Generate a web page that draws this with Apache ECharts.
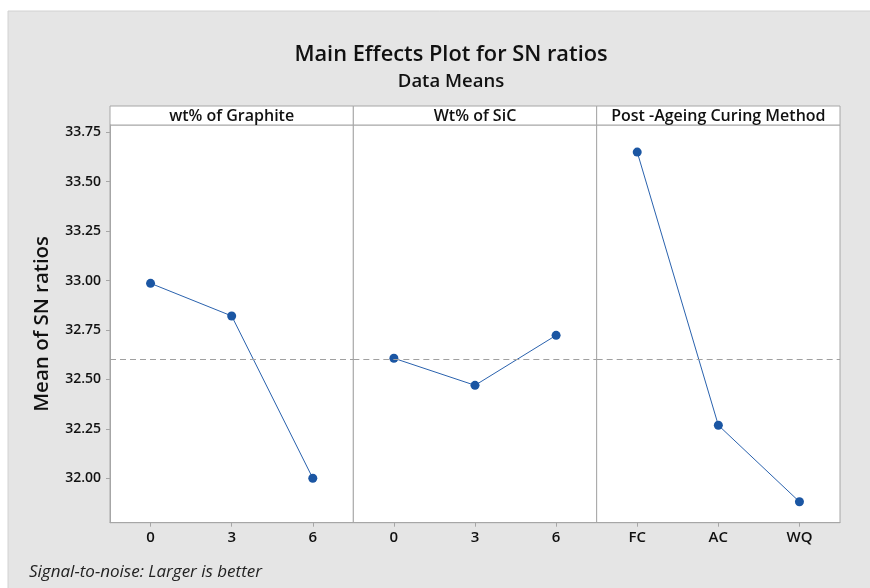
<!DOCTYPE html>
<html>
<head>
<meta charset="utf-8">
<script src="https://cdn.jsdelivr.net/npm/echarts@6/dist/echarts.min.js"></script>
<style>html,body{margin:0;padding:0;background:#fff}#c{width:870px;height:588px}</style>
</head>
<body>
<div id="c"></div>
<script>
// ---- data ----
const panelTitles = ['wt% of Graphite', 'Wt% of SiC', 'Post -Ageing Curing Method'];
const graphiteLevels = ['0', '3', '6'];
const graphiteMeans = [32.986, 32.821, 32.000];
const sicLevels = ['0', '3', '6'];
const sicMeans = [32.607, 32.470, 32.723];
const curingLevels = ['FC', 'AC', 'WQ'];
const curingMeans = [33.650, 32.268, 31.881];
const overallMean = 32.60;
const yTicks = [32.00, 32.25, 32.50, 32.75, 33.00, 33.25, 33.50, 33.75];
const yMin = 31.775, yMax = 33.787;

const levels = [graphiteLevels, sicLevels, curingLevels];
const means = [graphiteMeans, sicMeans, curingMeans];

// ---- layout ----
const plotLeft = 110, plotRight = 840, plotTop = 125, plotBottom = 522.7, headerTop = 106;
const pw = (plotRight - plotLeft) / 3;
const FONT = 'Open Sans';
const gridLine = '#a6a6a6';

const grids = [], xAxes = [], yAxes = [], series = [], graphics = [];
graphics.push({type:'rect', shape:{x:8, y:11, width:870, height:590}, style:{fill:'#e5e5e5', stroke:'#d2d2d2', lineWidth:1}, z:-10, silent:true});

for (let i = 0; i < 3; i++) {
  const left = plotLeft + pw * i;
  grids.push({left: left, top: plotTop, width: pw, height: plotBottom - plotTop, show: true, backgroundColor: '#fff', borderColor: gridLine, borderWidth: 1});
  xAxes.push({
    type: 'category', gridIndex: i, data: levels[i], boundaryGap: true,
    axisLine: {show: true, lineStyle: {color: gridLine}},
    axisTick: {show: true, alignWithLabel: true, length: 4, lineStyle: {color: gridLine}},
    axisLabel: {color: '#111', fontFamily: FONT, fontSize: 15, fontWeight: 600, margin: 8},
    splitLine: {show: false}
  });
  yAxes.push({
    type: 'value', gridIndex: i, min: yMin, max: yMax,
    axisLine: {show: i === 0, lineStyle: {color: gridLine}},
    axisTick: {show: i === 0, length: 4, customValues: yTicks, lineStyle: {color: gridLine}},
    axisLabel: {show: i === 0, customValues: yTicks, formatter: v => v.toFixed(2), color: '#111', fontFamily: FONT, fontSize: 14, fontWeight: 600, margin: 9},
    splitLine: {show: false},
    name: i === 0 ? 'Mean of SN ratios' : '', nameLocation: 'middle', nameGap: 57,
    nameTextStyle: {fontFamily: FONT, fontSize: 20.5, fontWeight: 600, color: '#111'}
  });
  series.push({
    type: 'line', xAxisIndex: i, yAxisIndex: i, data: means[i],
    symbol: 'circle', symbolSize: 9, itemStyle: {color: '#1b56a3'},
    lineStyle: {color: '#2a62ae', width: 1}, silent: true, animation: false,
    markLine: {silent: true, symbol: 'none', label: {show: false},
      lineStyle: {color: '#a0a0a0', type: [6, 4], width: 1},
      data: [{yAxis: overallMean}], animation: false}
  });
  graphics.push({type: 'rect', shape: {x: left, y: headerTop, width: pw, height: plotTop - headerTop},
    style: {fill: '#fff', stroke: gridLine, lineWidth: 1}, silent: true});
  graphics.push({type: 'text', x: left + pw / 2, y: (headerTop + plotTop) / 2 + 0.5,
    style: {text: panelTitles[i], fill: '#111', font: '600 16px "' + FONT + '"', textAlign: 'center', textVerticalAlign: 'middle'}, silent: true});
}
graphics.push({type: 'text', x: 29, y: 572, style: {text: 'Signal-to-noise: Larger is better', fill: '#222', font: 'italic 17px "' + FONT + '"', textAlign: 'left', textVerticalAlign: 'middle'}, silent: true});

const chart = echarts.init(document.getElementById('c'), null, {renderer: 'canvas'});
chart.setOption({
  backgroundColor: '#fff',
  animation: false,
  title: [
    {text: 'Main Effects Plot for SN ratios', left: 446, top: 39, textAlign: 'center',
     textStyle: {fontFamily: FONT, fontSize: 21.8, fontWeight: 600, color: '#111'}},
    {text: 'Data Means', left: 446, top: 67, textAlign: 'center',
     textStyle: {fontFamily: FONT, fontSize: 18.5, fontWeight: 600, color: '#111'}}
  ],
  grid: grids, xAxis: xAxes, yAxis: yAxes, series: series, graphic: graphics
});
</script>
</body>
</html>
